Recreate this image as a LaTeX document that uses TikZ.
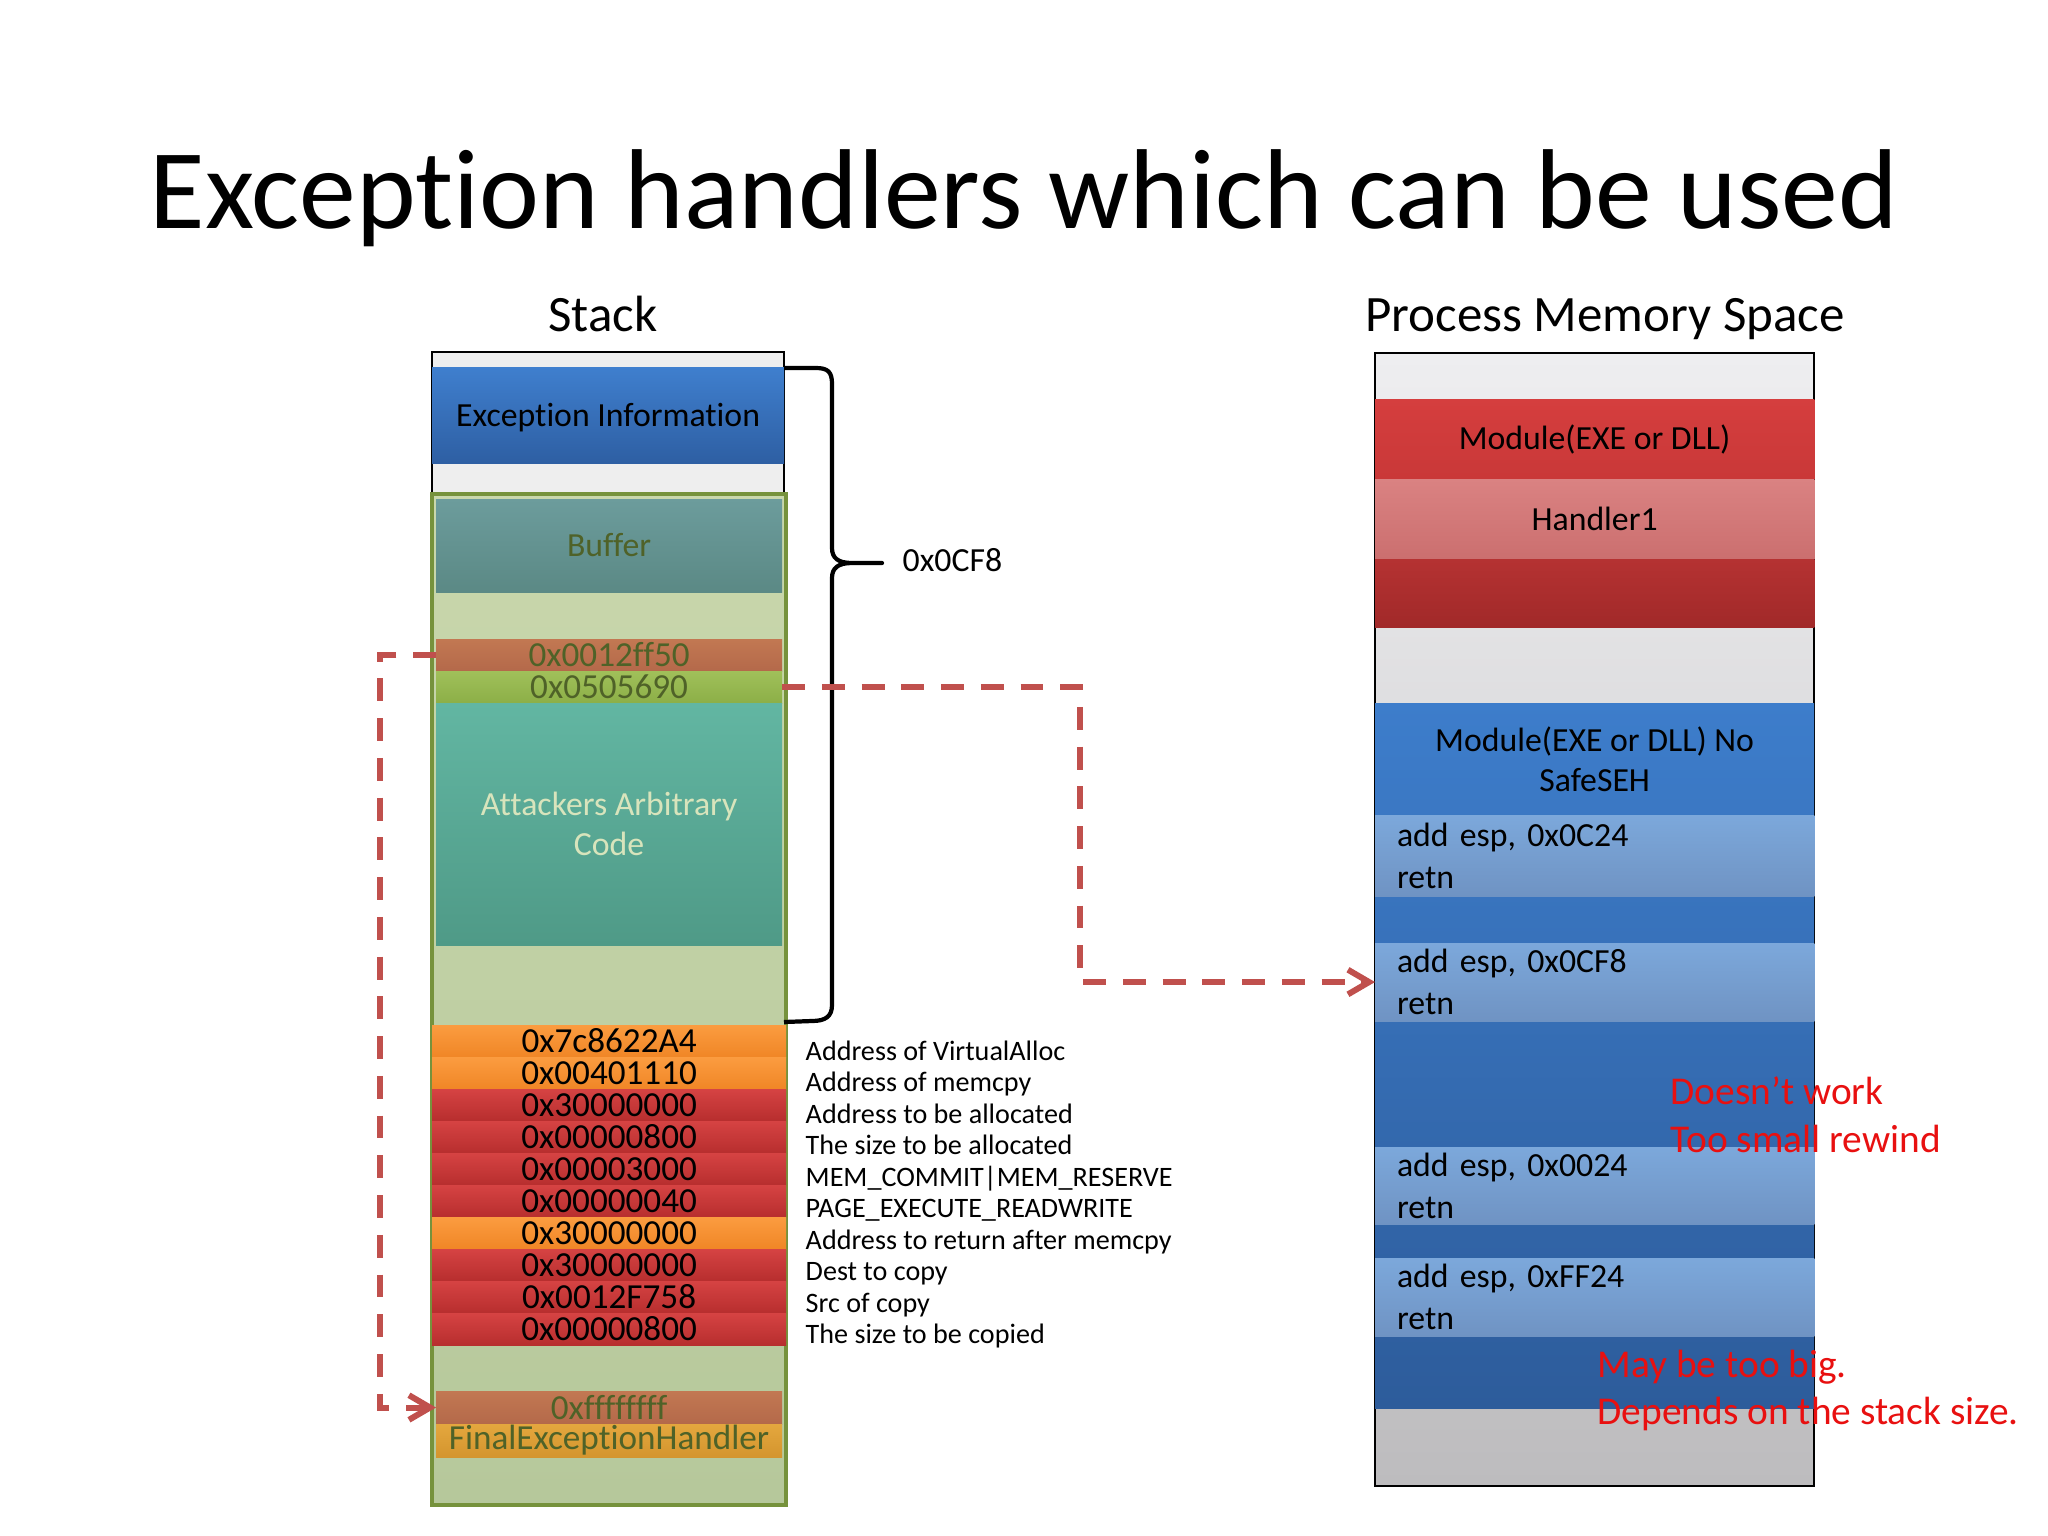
\documentclass[tikz,border=0pt]{standalone}
\usepackage{fontspec}
\setmainfont{Carlito}[Ligatures={TeX,NoCommon}]
\usepackage{xcolor}
\usepackage{tikz}
\usetikzlibrary{arrows.meta}
\frenchspacing

\definecolor{infotop}{HTML}{3F7FCE}
\definecolor{infobot}{HTML}{2E5FA3}
\definecolor{stackgray}{HTML}{EEEEEE}
\definecolor{olivedge}{HTML}{76923C}
\definecolor{paletop}{HTML}{C9D7AC}
\definecolor{palebot}{HTML}{B6C89B}
\definecolor{buftop}{HTML}{6C9C9C}
\definecolor{bufbot}{HTML}{5B8985}
\definecolor{olivetext}{HTML}{4F6228}
\definecolor{browntop}{HTML}{C27852}
\definecolor{brownbot}{HTML}{B4694A}
\definecolor{limetop}{HTML}{A0C05A}
\definecolor{limebot}{HTML}{8CAF47}
\definecolor{tealtop}{HTML}{62B6A2}
\definecolor{tealbot}{HTML}{4F9A87}
\definecolor{tealtext}{HTML}{D8E4BC}
\definecolor{orangetop}{HTML}{FB9C40}
\definecolor{orangebot}{HTML}{F08626}
\definecolor{redtop}{HTML}{D64343}
\definecolor{redbot}{HTML}{B72E2E}
\definecolor{goldtop}{HTML}{E4A73E}
\definecolor{goldbot}{HTML}{D4952E}
\definecolor{memtop}{HTML}{EEEEF0}
\definecolor{membot}{HTML}{BDBCBE}
\definecolor{modtop}{HTML}{D53E3E}
\definecolor{modbot}{HTML}{C93838}
\definecolor{handtop}{HTML}{DA8282}
\definecolor{handbot}{HTML}{CB6F6F}
\definecolor{darkredtop}{HTML}{B53232}
\definecolor{darkredbot}{HTML}{A12929}
\definecolor{bluetop}{HTML}{3D7DCB}
\definecolor{bluebot}{HTML}{2D5C9B}
\definecolor{lighttop}{HTML}{7CA8DB}
\definecolor{lightbot}{HTML}{6F93C3}
\definecolor{arrowred}{HTML}{C0504D}
\definecolor{notered}{HTML}{E81010}

\begin{document}
\begin{tikzpicture}[x=0.01cm, y=-0.01cm,
    band/.style={anchor=north west, inner sep=0pt, outer sep=0pt,
        font=\fontsize{9.6}{11.5}\selectfont},
    stackrow/.style={band, minimum width=3.54cm, minimum height=0.32cm,
        font=\fontsize{10}{11}\selectfont},
    orangerow/.style={stackrow, top color=orangetop, bottom color=orangebot},
    redrow/.style={stackrow, top color=redtop, bottom color=redbot},
    inset/.style={band, minimum width=3.46cm, text=olivetext},
    desc/.style={anchor=base west, inner sep=0pt, font=\fontsize{8}{9}\selectfont},
    membox/.style={band, minimum width=4.39cm},
    codeband/.style={membox, text width=3.95cm, inner xsep=0.22cm, align=left,
        top color=lighttop, bottom color=lightbot, font=\fontsize{9.6}{12}\selectfont},
    note/.style={anchor=north west, inner sep=0pt, align=left, text=notered,
        font=\fontsize{11.2}{13.6}\selectfont},
    jump/.style={draw=arrowred, line width=1.7pt, dash pattern=on 6.5pt off 4.8pt,
        -{Straight Barb[length=6pt, width=7pt]}},
    heading/.style={anchor=base, font=\fontsize{14.5}{17}\selectfont}]

    \useasboundingbox (0,0) rectangle (2048,1536);

    \node[anchor=base, font=\fontsize{32.3}{38}\selectfont] (title) at (1024,228)
        {Exception handlers which can be used};
    \node[heading] (stackhead) at (603,331) {Stack};
    \node[heading] (memhead) at (1605,331) {Process Memory Space};

    % stack
    \filldraw[fill=stackgray, draw=black, line width=0.6pt] (432,352) rectangle (784,1505);
    \node[band, minimum width=3.52cm, minimum height=0.96cm, text depth=0pt,
        top color=infotop, bottom color=infobot] (exinfo) at (432,367) {Exception Information};
    \shadedraw[top color=paletop, bottom color=palebot, draw=olivedge, line width=1.3pt]
        (432,494) rectangle (786,1505);
    \node[inset, minimum height=0.93cm, top color=buftop, bottom color=bufbot] (buffer) at (436,499) {Buffer};
    \node[inset, minimum height=0.32cm, top color=browntop, bottom color=brownbot,
        font=\fontsize{10}{11}\selectfont] (ff50) at (436,639) {0x0012ff50};
    \node[inset, minimum height=0.32cm, top color=limetop, bottom color=limebot,
        font=\fontsize{10}{11}\selectfont] (n0505) at (436,671) {0x0505690};
    \node[inset, minimum height=2.42cm, top color=tealtop, bottom color=tealbot,
        text=tealtext, align=center] (code) at (436,703) {Attackers Arbitrary\\Code};

    \node[orangerow] (r1) at (432,1025) {0x7c8622A4};
    \node[orangerow] (r2) at (432,1057) {0x00401110};
    \node[redrow] (r3) at (432,1089) {0x30000000};
    \node[redrow] (r4) at (432,1121) {0x00000800};
    \node[redrow] (r5) at (432,1153) {0x00003000};
    \node[redrow] (r6) at (432,1185) {0x00000040};
    \node[orangerow] (r7) at (432,1217) {0x30000000};
    \node[redrow] (r8) at (432,1249) {0x30000000};
    \node[redrow] (r9) at (432,1281) {0x0012F758};
    \node[redrow] (r10) at (432,1313) {0x00000800};

    \node[inset, minimum height=0.33cm, top color=browntop, bottom color=brownbot,
        font=\fontsize{10}{11}\selectfont] (ffff) at (436,1391) {0xffffffff};
    \node[inset, minimum height=0.33cm, top color=goldtop, bottom color=goldbot,
        font=\fontsize{10}{11}\selectfont] (final) at (436,1424) {FinalExceptionHandler};

    \node[desc] (d1) at (805,1060) {Address of VirtualAlloc};
    \node[desc] (d2) at (805,1091.5) {Address of memcpy};
    \node[desc] (d3) at (805,1123) {Address to be allocated};
    \node[desc] (d4) at (805,1154.5) {The size to be allocated};
    \node[desc] (d5) at (805,1186) {MEM\_COMMIT|MEM\_RESERVE};
    \node[desc] (d6) at (805,1217.5) {PAGE\_EXECUTE\_READWRITE};
    \node[desc] (d7) at (805,1249) {Address to return after memcpy};
    \node[desc] (d8) at (805,1280.5) {Dest to copy};
    \node[desc] (d9) at (805,1312) {Src of copy};
    \node[desc] (d10) at (805,1343.5) {The size to be copied};

    % brace over the overwritten part
    \draw[line width=1.2pt, line join=round]
        (784,368) -- (816,368) .. controls (828,368) and (832,372) .. (832,384)
        -- (832,548) .. controls (832,558) and (838,563) .. (852,563) -- (882,563)
        -- (852,563) .. controls (838,563) and (832,568) .. (832,578)
        -- (832,1005) .. controls (832,1016) and (826,1021) .. (812,1021) -- (784,1022);
    \node[anchor=west, inner sep=0pt, font=\fontsize{9.6}{11.5}\selectfont] (size) at (902,560) {0x0CF8};

    % process memory
    \shadedraw[top color=memtop, bottom color=membot, draw=black, line width=0.6pt]
        (1375,353) rectangle (1814,1486);
    \node[membox, minimum height=0.80cm, top color=modtop, bottom color=modbot] (modexe) at (1375,399) {Module(EXE or DLL)};
    \node[membox, minimum height=0.80cm, top color=handtop, bottom color=handbot] (handler) at (1375,479) {Handler1};
    \node[membox, minimum height=0.68cm, top color=darkredtop, bottom color=darkredbot] (modend) at (1375,559) {};

    \shade[top color=bluetop, bottom color=bluebot] (1375,703) rectangle (1814,1408);
    \node[membox, minimum height=1.12cm, align=center] (noseh) at (1375,703) {Module(EXE or DLL) No\\SafeSEH};
    \node[codeband, minimum height=0.81cm] (c24) at (1375,815) {add esp, 0x0C24\\retn};
    \node[codeband, minimum height=0.78cm] (cf8) at (1375,943) {add esp, 0x0CF8\\retn};
    \node[codeband, minimum height=0.77cm] (c0024) at (1375,1147) {add esp, 0x0024\\retn};
    \node[codeband, minimum height=0.78cm] (ff24) at (1375,1258) {add esp, 0xFF24\\retn};

    \node[note] (small) at (1670,1076) {Doesn’t work\\Too small rewind};
    \node[note] (big) at (1597,1349) {May be too big.\\Depends on the stack size.};

    % jumps
    \draw[jump] (ff50.west) -- ++(-56,0) |- (ffff.west);
    \draw[jump] (n0505.east) -- ++(298,0) |- (cf8.west);
\end{tikzpicture}
\end{document}
